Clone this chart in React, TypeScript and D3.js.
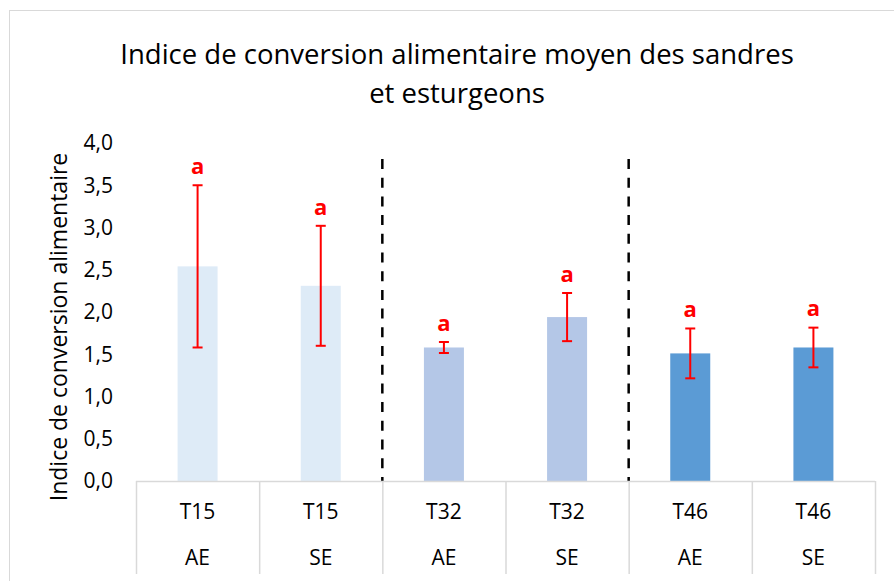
import { useEffect, useRef } from 'react';
import * as d3 from 'd3';

const periods = ['T15', 'T15', 'T32', 'T32', 'T46', 'T46'];
const treatments = ['AE', 'SE', 'AE', 'SE', 'AE', 'SE'];
const means = [2.54, 2.31, 1.58, 1.94, 1.51, 1.58];
const errors = [0.96, 0.71, 0.065, 0.285, 0.295, 0.235];
const letters = ['a', 'a', 'a', 'a', 'a', 'a'];
const yTicks = [0, 0.5, 1, 1.5, 2, 2.5, 3, 3.5, 4];
const barColors = ['#DEEBF7', '#DEEBF7', '#B4C7E7', '#B4C7E7', '#5B9BD5', '#5B9BD5'];

const width = 894;
const height = 581;
const font = 'Open Sans, sans-serif';

const App = () => {
  const svgRef = useRef<SVGSVGElement>(null);

  useEffect(() => {
    const svg = d3.select(svgRef.current);
    svg.selectAll('*').remove();

    const ids = means.map((_, i) => String(i));
    const x = d3.scaleBand().domain(ids).range([136, 875]).paddingInner(0).paddingOuter(0);
    const y = d3.scaleLinear().domain([0, 4]).range([481, 143]);
    const barW = 40;

    // chart border
    svg.append('rect')
      .attr('x', 9.5).attr('y', 10.5)
      .attr('width', 900).attr('height', 600)
      .attr('fill', '#fff').attr('stroke', '#D9D9D9');

    // title
    const title = svg.append('text')
      .attr('text-anchor', 'middle')
      .attr('font-family', font)
      .attr('font-size', 27.5)
      .attr('fill', '#000');
    title.append('tspan').attr('x', 457).attr('y', 64).text('Indice de conversion alimentaire moyen des sandres');
    title.append('tspan').attr('x', 457).attr('y', 103).text('et esturgeons');

    // y tick labels
    svg.append('g').selectAll('text')
      .data(yTicks)
      .join('text')
      .attr('x', 113)
      .attr('y', d => y(d))
      .attr('dy', '0.35em')
      .attr('text-anchor', 'end')
      .attr('font-family', font)
      .attr('font-size', 21)
      .text(d => d3.format('.1f')(d).replace('.', ','));

    // y axis title
    svg.append('text')
      .attr('transform', 'translate(67,327) rotate(-90)')
      .attr('text-anchor', 'middle')
      .attr('font-family', font)
      .attr('font-size', 23)
      .text('Indice de conversion alimentaire');

    // bars
    svg.append('g').selectAll('rect')
      .data(means)
      .join('rect')
      .attr('x', (_, i) => x(ids[i])! + x.bandwidth() / 2 - barW / 2)
      .attr('y', d => y(d))
      .attr('width', barW)
      .attr('height', d => y(0) - y(d))
      .attr('fill', (_, i) => barColors[i]);

    // separators between periods
    svg.append('g').selectAll('line')
      .data([2, 4])
      .join('line')
      .attr('x1', i => x(ids[i])!)
      .attr('x2', i => x(ids[i])!)
      .attr('y1', 159)
      .attr('y2', y(0))
      .attr('stroke', '#000')
      .attr('stroke-width', 2.5)
      .attr('stroke-dasharray', '10,8.7');

    // category axis
    const axis = svg.append('g');
    axis.append('line')
      .attr('x1', 136).attr('x2', 875)
      .attr('y1', y(0) + 0.5).attr('y2', y(0) + 0.5)
      .attr('stroke', '#D9D9D9').attr('stroke-width', 1.5);
    axis.selectAll('line.tick')
      .data(d3.range(ids.length + 1))
      .join('line')
      .attr('class', 'tick')
      .attr('x1', i => (i < ids.length ? x(ids[i])! : 875) + 0.5)
      .attr('x2', i => (i < ids.length ? x(ids[i])! : 875) + 0.5)
      .attr('y1', y(0))
      .attr('y2', 574)
      .attr('stroke', '#D9D9D9').attr('stroke-width', 1.5);
    axis.selectAll('text.period')
      .data(periods)
      .join('text')
      .attr('class', 'period')
      .attr('x', (_, i) => x(ids[i])! + x.bandwidth() / 2)
      .attr('y', 512)
      .attr('dy', '0.35em')
      .attr('text-anchor', 'middle')
      .attr('font-family', font)
      .attr('font-size', 21)
      .text(d => d);
    axis.selectAll('text.treat')
      .data(treatments)
      .join('text')
      .attr('class', 'treat')
      .attr('x', (_, i) => x(ids[i])! + x.bandwidth() / 2)
      .attr('y', 558)
      .attr('dy', '0.35em')
      .attr('text-anchor', 'middle')
      .attr('font-family', font)
      .attr('font-size', 21)
      .text(d => d);

    // error bars
    const err = svg.append('g').attr('stroke', '#FF0000').attr('stroke-width', 2);
    means.forEach((m, i) => {
      const cx = x(ids[i])! + x.bandwidth() / 2;
      const top = y(m + errors[i]);
      const bot = y(m - errors[i]);
      err.append('line').attr('x1', cx).attr('x2', cx).attr('y1', top).attr('y2', bot);
      err.append('line').attr('x1', cx - 5).attr('x2', cx + 5).attr('y1', top).attr('y2', top);
      err.append('line').attr('x1', cx - 5).attr('x2', cx + 5).attr('y1', bot).attr('y2', bot);
    });

    // significance letters
    svg.append('g').selectAll('text')
      .data(letters)
      .join('text')
      .attr('x', (_, i) => x(ids[i])! + x.bandwidth() / 2)
      .attr('y', (_, i) => y(means[i] + errors[i]) - 19)
      .attr('dy', '0.35em')
      .attr('text-anchor', 'middle')
      .attr('font-family', font)
      .attr('font-size', 22)
      .attr('font-weight', 'bold')
      .attr('fill', '#FF0000')
      .text(d => d);
  }, []);

  return (
    <div style={{ position: 'absolute', left: 0, top: 0 }}>
      <svg ref={svgRef} width={width} height={height} style={{ display: 'block' }}></svg>
    </div>
  );
};

export default App;
